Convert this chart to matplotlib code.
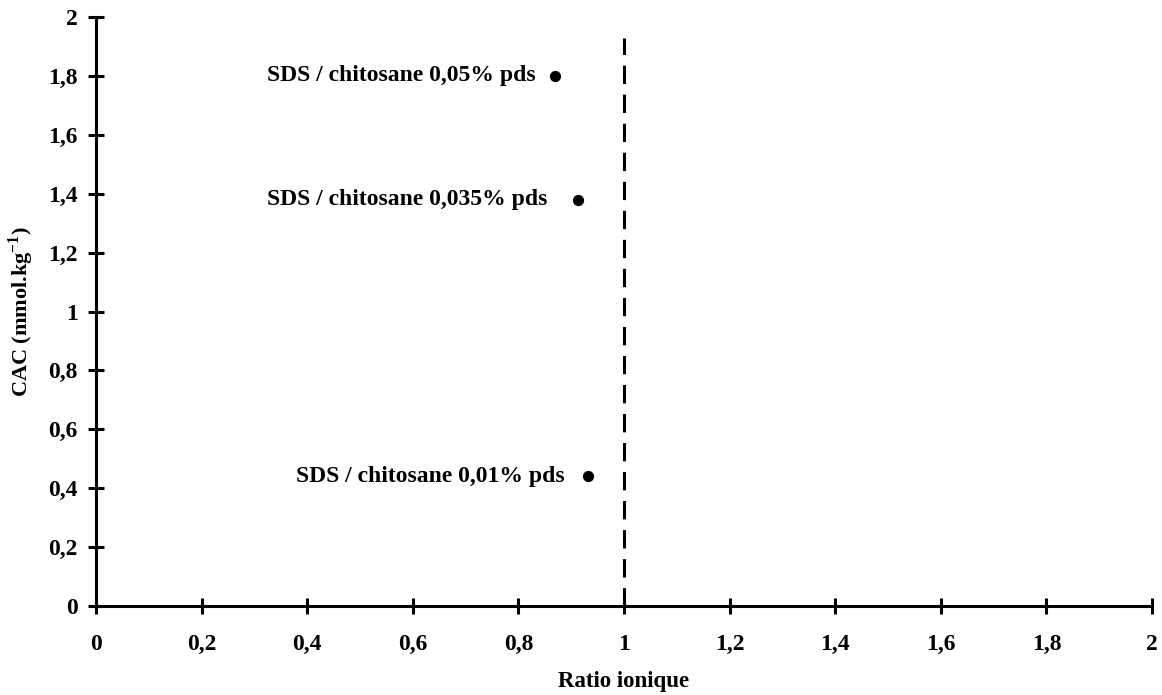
import matplotlib.pyplot as plt

plt.rcParams['font.family'] = ['Liberation Serif', 'DejaVu Serif']
plt.rcParams['font.weight'] = 'bold'
plt.rcParams['mathtext.fontset'] = 'custom'
plt.rcParams['mathtext.rm'] = 'Liberation Serif:bold'
plt.rcParams['mathtext.bf'] = 'Liberation Serif:bold'

# Données
ratio = [0.869, 0.913, 0.932]
cac = [1.80, 1.38, 0.44]
noms = ['SDS / chitosane 0,05% pds',
        'SDS / chitosane 0,035% pds',
        'SDS / chitosane 0,01% pds']
decalages = [-14, -22, -17]

ticks = [0, 0.2, 0.4, 0.6, 0.8, 1, 1.2, 1.4, 1.6, 1.8, 2]
tick_labels = ['0', '0,2', '0,4', '0,6', '0,8', '1', '1,2', '1,4', '1,6', '1,8', '2']

fig = plt.figure(figsize=(11.62, 6.95), dpi=100)
ax = fig.add_axes([0.0826, 0.128, 0.9088, 0.8475])

ax.scatter(ratio, cac, s=50, color='black', zorder=3, clip_on=False)
for x, y, nom, d in zip(ratio, cac, noms, decalages):
    ax.annotate(nom, (x, y), xytext=(d, 0), textcoords='offset points',
                ha='right', va='center', fontsize=17, fontweight='bold')

ax.plot([1, 1], [0, 1.93], color='black', linestyle=(0, (6, 3.5)), linewidth=2.2)

ax.set_xlim(0, 2)
ax.set_ylim(0, 2)
ax.set_xticks(ticks)
ax.set_xticklabels(tick_labels)
ax.set_yticks(ticks)
ax.set_yticklabels(tick_labels)

for s in ['top', 'right']:
    ax.spines[s].set_visible(False)
for s in ['left', 'bottom']:
    ax.spines[s].set_linewidth(2.2)

ax.tick_params(axis='both', direction='inout', length=12, width=2.2, labelsize=17)
ax.tick_params(axis='x', pad=14)
ax.tick_params(axis='y', pad=7)

ax.set_xlabel('Ratio ionique', fontsize=16.5, fontweight='bold', labelpad=12)
ax.set_ylabel(r'CAC (mmol.kg$^{\mathbf{-1}}$)', fontsize=16, fontweight='bold', labelpad=9)

fig.savefig('out.png', dpi=100)
